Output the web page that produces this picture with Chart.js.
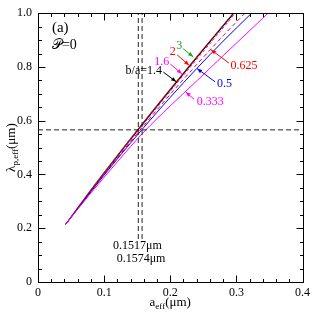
<!DOCTYPE html>
<html>
<head>
<meta charset="utf-8">
<script src="https://cdn.jsdelivr.net/npm/chart.js@4.4.1/dist/chart.umd.min.js"></script>
<style>
  html, body { margin: 0; padding: 0; background: #fff; }
  #wrap { width: 314px; height: 312px; }
</style>
</head>
<body>
<div id="wrap"><canvas id="chart"></canvas></div>
<script>
// curves: b/a values (a_eff in um, lambda in um)
const ratios = ['3', '2', '1.6', '1.4', '0.625', '0.5', '0.333'];

// the b/a >= 1.4 curves nearly coincide
const lamCluster = [0.215, 0.339, 0.467, 0.592, 0.714, 0.834, 1.0];
const a3   = [0.042, 0.0785, 0.1185, 0.1585, 0.1985, 0.2385, 0.295];
const a2   = [0.042, 0.079, 0.119, 0.159, 0.199, 0.239, 0.2955];
const a16  = [0.042, 0.0805, 0.1205, 0.161, 0.2015, 0.242, 0.2985];
const a14  = [0.042, 0.08, 0.12, 0.16, 0.2, 0.24, 0.2965];

const a0625   = [0.042, 0.08, 0.12, 0.16, 0.2, 0.24, 0.28, 0.313];
const lam0625 = [0.215, 0.338, 0.462, 0.582, 0.698, 0.809, 0.916, 1.0];
const a05     = [0.042, 0.08, 0.12, 0.16, 0.2, 0.24, 0.28, 0.323];
const lam05   = [0.215, 0.336, 0.458, 0.575, 0.687, 0.794, 0.896, 1.0];
const a0333   = [0.042, 0.08, 0.12, 0.16, 0.2, 0.24, 0.28, 0.348];
const lam0333 = [0.215, 0.331, 0.447, 0.558, 0.655, 0.748, 0.842, 1.0];

// dashed guide lines
const refA = [0.1517, 0.1574];
const refLambda = 0.566;
const refLow = 0.16;

const xTicks = [0, 0.1, 0.2, 0.3, 0.4];
const yTicks = [0, 0.2, 0.4, 0.6, 0.8, 1];

const SERIF = '"Liberation Serif", "Times New Roman", serif';

function pts(xs, ys) {
    return xs.map((v, i) => ({ x: v, y: ys[i] }));
}

function curve(label, xs, ys, color, dash) {
    return {
        label: label,
        data: pts(xs, ys),
        borderColor: color,
        borderWidth: 1,
        borderDash: dash || [],
        pointRadius: 0,
        showLine: true,
        fill: false,
        cubicInterpolationMode: 'monotone'
    };
}

function guide(data) {
    return {
        label: 'guide',
        data: data,
        borderColor: '#222',
        borderWidth: 1,
        borderDash: [5, 3],
        pointRadius: 0,
        showLine: true,
        fill: false
    };
}

const datasets = [
    guide([{ x: refA[0], y: refLow }, { x: refA[0], y: 1 }]),
    guide([{ x: refA[1], y: refLow }, { x: refA[1], y: 1 }]),
    guide([{ x: 0, y: refLambda }, { x: 0.4, y: refLambda }]),
    curve(ratios[6], a0333, lam0333, '#ff00ff'),
    curve(ratios[5], a05, lam05, '#0000ff'),
    curve(ratios[4], a0625, lam0625, '#ff0000', [4, 3]),
    curve(ratios[2], a16, lamCluster, '#ff00ff', [3, 2]),
    curve(ratios[3], a14, lamCluster, '#000000'),
    curve(ratios[1], a2, lamCluster, '#ff0000'),
    curve(ratios[0], a3, lamCluster, '#1aa01a')
];

// labels with arrows, positions in data units
const notes = [
    { t: 'b/a=1.4', c: '#000',    at: [0.1875, 0.787], align: 'right', from: [0.1895, 0.781], to: [0.209, 0.745] },
    { t: '1.6',     c: '#ff00ff', at: [0.1985, 0.819], align: 'right', from: [0.200, 0.811], to: [0.2175, 0.775] },
    { t: '2',       c: '#ff0000', at: [0.2085, 0.855], align: 'right', from: [0.2105, 0.845], to: [0.2286, 0.806] },
    { t: '3',       c: '#1aa01a', at: [0.218, 0.878],  align: 'right', from: [0.2195, 0.868], to: [0.2346, 0.838] },
    { t: '0.625',   c: '#ff0000', at: [0.291, 0.804],  align: 'left',  from: [0.2887, 0.8145], to: [0.2617, 0.864] },
    { t: '0.5',     c: '#0000ff', at: [0.2707, 0.737], align: 'left',  from: [0.2677, 0.745], to: [0.2406, 0.794] },
    { t: '0.333',   c: '#ff00ff', at: [0.240, 0.672],  align: 'left',  from: [0.236, 0.680], to: [0.2235, 0.707] }
];

function arrow(ctx, x0, y0, x1, y1, color) {
    ctx.strokeStyle = color;
    ctx.fillStyle = color;
    ctx.lineWidth = 1;
    ctx.beginPath();
    ctx.moveTo(x0, y0);
    ctx.lineTo(x1, y1);
    ctx.stroke();
    const ang = Math.atan2(y1 - y0, x1 - x0);
    const L = 5, W = 2;
    ctx.beginPath();
    ctx.moveTo(x1, y1);
    ctx.lineTo(x1 - L * Math.cos(ang) + W * Math.sin(ang), y1 - L * Math.sin(ang) - W * Math.cos(ang));
    ctx.lineTo(x1 - L * Math.cos(ang) - W * Math.sin(ang), y1 - L * Math.sin(ang) + W * Math.cos(ang));
    ctx.closePath();
    ctx.fill();
}

// text with subscripts: parts = [[text, isSub], ...], centred at 0,0
function subText(ctx, parts, size) {
    const subSize = Math.round(size * 0.7);
    let w = 0;
    parts.forEach(p => {
        ctx.font = (p[1] ? subSize : size) + 'px ' + SERIF;
        w += ctx.measureText(p[0]).width;
    });
    let x = -w / 2;
    ctx.textAlign = 'left';
    ctx.textBaseline = 'alphabetic';
    parts.forEach(p => {
        ctx.font = (p[1] ? subSize : size) + 'px ' + SERIF;
        ctx.fillText(p[0], x, p[1] ? 7 : 4);
        x += ctx.measureText(p[0]).width;
    });
}

const framePlugin = {
    id: 'frame',
    afterDraw(chart) {
        const { ctx, chartArea: ca, scales: { x, y } } = chart;
        ctx.save();
        ctx.strokeStyle = '#000';
        ctx.lineWidth = 1;
        const L = Math.round(ca.left) + 0.5, R = Math.round(ca.right) + 0.5;
        const T = Math.round(ca.top) + 0.5, B = Math.round(ca.bottom) + 0.5;
        ctx.strokeRect(L, T, R - L, B - T);

        // inward ticks on all four sides
        ctx.beginPath();
        for (let i = 0; i <= 20; i++) {
            const px = Math.round(x.getPixelForValue(i * 0.02)) + 0.5;
            const len = i % 5 === 0 ? 7 : 3.5;
            ctx.moveTo(px, B); ctx.lineTo(px, B - len);
            ctx.moveTo(px, T); ctx.lineTo(px, T + len);
        }
        for (let i = 0; i <= 20; i++) {
            const py = Math.round(y.getPixelForValue(i * 0.05)) + 0.5;
            const len = i % 4 === 0 ? 7 : 3.5;
            ctx.moveTo(L, py); ctx.lineTo(L + len, py);
            ctx.moveTo(R, py); ctx.lineTo(R - len, py);
        }
        ctx.stroke();

        // labels and arrows
        ctx.font = '12px ' + SERIF;
        ctx.textBaseline = 'middle';
        notes.forEach(n => {
            ctx.fillStyle = n.c;
            ctx.textAlign = n.align;
            ctx.fillText(n.t, x.getPixelForValue(n.at[0]), y.getPixelForValue(n.at[1]));
            arrow(ctx, x.getPixelForValue(n.from[0]), y.getPixelForValue(n.from[1]),
                  x.getPixelForValue(n.to[0]), y.getPixelForValue(n.to[1]), n.c);
        });

        ctx.fillStyle = '#000';
        ctx.textAlign = 'left';
        ctx.font = '12px ' + SERIF;
        ctx.fillText(refA[0] + '\u03bcm', x.getPixelForValue(0.1135), y.getPixelForValue(0.136));
        ctx.fillText(refA[1] + '\u03bcm', x.getPixelForValue(0.119), y.getPixelForValue(0.087));

        ctx.font = '15px ' + SERIF;
        ctx.fillText('(a)', x.getPixelForValue(0.021), y.getPixelForValue(0.946));
        ctx.font = '14px ' + SERIF + ', "DejaVu Sans"';
        ctx.fillText('\u{1D4AB}=0', x.getPixelForValue(0.021), y.getPixelForValue(0.88));

        // axis titles
        ctx.save();
        ctx.translate((ca.left + ca.right) / 2, 302);
        subText(ctx, [['a', false], ['eff', true], ['(\u03bcm)', false]], 13);
        ctx.restore();

        ctx.save();
        ctx.translate(11, (ca.top + ca.bottom) / 2);
        ctx.rotate(-Math.PI / 2);
        subText(ctx, [['\u03bb', false], ['p,eff', true], ['(\u03bcm)', false]], 13);
        ctx.restore();

        ctx.restore();
    }
};

new Chart(document.getElementById('chart'), {
    type: 'scatter',
    data: { datasets: datasets },
    options: {
        responsive: true,
        maintainAspectRatio: false,
        animation: false,
        layout: { padding: { top: 7, right: 10, left: 0, bottom: 0 } },
        plugins: { legend: { display: false }, tooltip: { enabled: false } },
        scales: {
            x: {
                type: 'linear', min: 0, max: 0.4,
                afterFit(s) { s.height = 30; },
                afterBuildTicks(s) { s.ticks = xTicks.map(v => ({ value: v })); },
                grid: { display: false, drawTicks: false },
                border: { display: false },
                ticks: { color: '#000', padding: 4, maxRotation: 0, font: { family: SERIF, size: 12 } }
            },
            y: {
                type: 'linear', min: 0, max: 1,
                afterFit(s) { s.width = 38; },
                afterBuildTicks(s) { s.ticks = yTicks.map(v => ({ value: v })); },
                grid: { display: false, drawTicks: false },
                border: { display: false },
                ticks: { color: '#000', padding: 6, font: { family: SERIF, size: 12 } }
            }
        }
    },
    plugins: [framePlugin]
});
</script>
</body>
</html>
